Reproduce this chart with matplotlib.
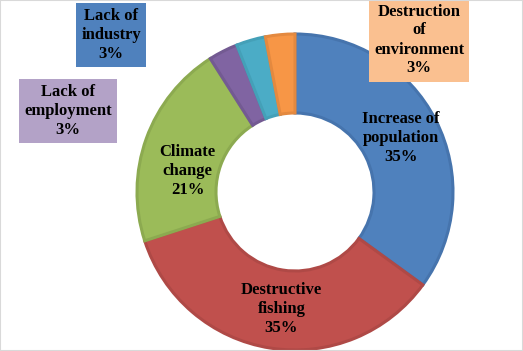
import matplotlib.pyplot as plt
from matplotlib.patches import Rectangle
import numpy as np

labels = ['Increase of\npopulation', 'Destructive\nfishing', 'Climate\nchange',
          'Lack of\nemployment', 'Lack of\nindustry', 'Destruction\nof\nenvironment']
values = [35, 35, 21, 3, 3, 3]
colors = ['#4F81BD', '#C0504D', '#9BBB59', '#8064A2', '#4BACC6', '#F79646']
edges = ['#4674AD', '#AF4946', '#8CAA50', '#735A92', '#44A0B8', '#E4893F']

# label boxes for the small slices (pixel positions, y from top) and fills
box_pos = {3: (68, 111), 4: (111, 35), 5: (419, 40)}
box_fill = {3: '#B3A2C7', 4: '#4F81BD', 5: '#FAC090'}
# small nudges (px) for the inside labels, like excel places them
nudge = {0: (0, 0), 1: (5, 0), 2: (4, -19)}

W, H = 523, 351
fig = plt.figure(figsize=(W / 100, H / 100), dpi=100)
ax = fig.add_axes([0, 0, 1, 1])

cx, cy = 295, H - 192
R = 158
ring = 0.50

wedges, _ = ax.pie(values, colors=colors, startangle=90, counterclock=False,
                   radius=R, center=(cx, cy), frame=True,
                   wedgeprops=dict(width=R * ring, linewidth=2.2))
for w, ec in zip(wedges, edges):
    w.set_edgecolor(ec)

ax.set_xlim(0, W)
ax.set_ylim(0, H)
ax.set_aspect('equal')
ax.axis('off')

font = dict(family='Liberation Serif', weight='bold', size=12, color='black',
            ha='center', va='center', linespacing=1.25)

total = sum(values)
for i, (w, lab, v) in enumerate(zip(wedges, labels, values)):
    text = f'{lab}\n{round(v / total * 100)}%'
    if i in box_pos:
        px, py = box_pos[i]
        ax.text(px, H - py, text,
                bbox=dict(boxstyle='square,pad=0.3', fc=box_fill[i], ec='none'),
                **font)
    else:
        ang = np.deg2rad((w.theta1 + w.theta2) / 2)
        r = R * (1 - ring / 2)
        dx, dy = nudge[i]
        ax.text(cx + r * np.cos(ang) + dx, cy + r * np.sin(ang) + dy, text, **font)

# light frame around the chart area
fig.patches.append(Rectangle((0, 0), 1, 1, transform=fig.transFigure,
                             fill=False, ec='#D9D9D9', lw=1.5))

fig.savefig('out.png', dpi=100)
